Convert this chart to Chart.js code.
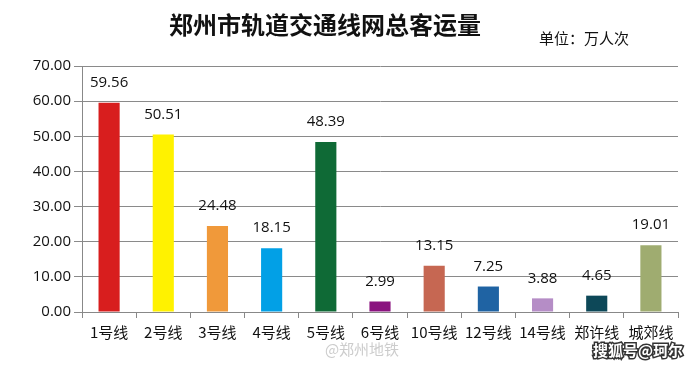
<!DOCTYPE html>
<html><head><meta charset="utf-8">
<script src="https://cdn.jsdelivr.net/npm/chart.js@4/dist/chart.umd.min.js"></script>
<style>html,body{margin:0;padding:0;background:#fff}#wrap{width:699px;height:365px;position:relative}</style>
</head><body><div id="wrap"><canvas id="c" width="699" height="365"></canvas></div>
<script>
const categories = ["1号线","2号线","3号线","4号线","5号线","6号线","10号线","12号线","14号线","郑许线","城郊线"];
const ridership = [59.56,50.51,24.48,18.15,48.39,2.99,13.15,7.25,3.88,4.65,19.01];
const barColors = ["#d81e1e","#fff200","#f0993a","#02a0e6","#0f6a36","#8a137f","#c66752","#1f63a3","#b58dc6","#0d4858","#9fac70"];
const titleText = "郑州市轨道交通线网总客运量";
const unitText = "单位：万人次";
const yTicks = {min:0,max:70,step:10};

const deco = {
  id:'deco',
  afterDraw(chart){
    const ctx = chart.ctx;
    ctx.save();
    ctx.fillStyle = '#111';
    ctx.font = 'bold 24px "Noto Sans CJK SC"';
    ctx.textAlign = 'center'; ctx.textBaseline = 'middle';
    ctx.fillText(titleText, 325, 25);
    ctx.font = '15px "Noto Sans CJK SC"';
    ctx.textAlign = 'left';
    ctx.fillText(unitText, 539, 38);
    // data labels
    const meta = chart.getDatasetMeta(0);
    ctx.font = '15px "Open Sans"';
    ctx.textAlign = 'center';
    ctx.fillStyle = '#111';
    meta.data.forEach((bar,i)=>{
      ctx.fillText(ridership[i].toFixed(2), bar.x, bar.y - 20);
    });
    // watermarks
    ctx.font = '15px "Noto Sans CJK SC"';
    ctx.fillStyle = 'rgba(170,170,170,0.6)';
    ctx.fillText('@郑州地铁', 362, 349);
    ctx.fillStyle = '#fff';
    ctx.strokeStyle = '#333'; ctx.lineWidth = 3;
    ctx.font = 'bold 15px "Noto Sans CJK SC"';
    ctx.strokeText('搜狐号@珂尔', 638, 350);
    ctx.fillText('搜狐号@珂尔', 638, 350);
    ctx.restore();
  }
};

new Chart(document.getElementById('c'), {
  type:'bar',
  data:{labels:categories, datasets:[{data:ridership, backgroundColor:barColors, barPercentage:0.39, categoryPercentage:1.0}]},
  options:{
    responsive:false, animation:false,
    layout:{padding:{top:66,right:21,left:0,bottom:19}},
    plugins:{legend:{display:false},tooltip:{enabled:false}},
    scales:{
      x:{
        grid:{display:true, drawOnChartArea:false, color:'#888', tickLength:6, offset:true},
        border:{color:'#888'},
        ticks:{color:'#111', font:{family:'"Noto Sans CJK SC"', size:15}, maxRotation:0, autoSkip:false, padding:5}
      },
      y:{
        min:yTicks.min, max:yTicks.max,
        afterFit(s){ s.width = 82; },
        grid:{color:'#8a8a8a', tickLength:8},
        border:{color:'#888'},
        ticks:{stepSize:yTicks.step, color:'#111', font:{family:'"Open Sans"', size:15}, padding:3,
          callback:v=>Number(v).toFixed(2)}
      }
    }
  },
  plugins:[deco]
});
</script></body></html>
